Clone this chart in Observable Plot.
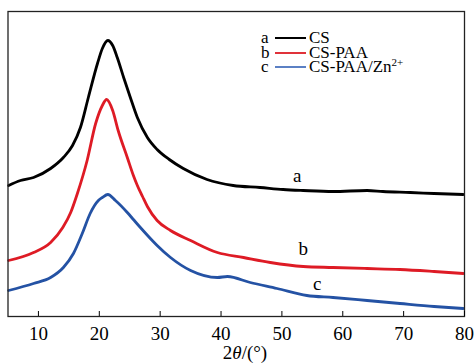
<!DOCTYPE html>
<html><head><meta charset="utf-8">
<script src="https://cdn.jsdelivr.net/npm/d3@7"></script>
<script src="https://cdn.jsdelivr.net/npm/@observablehq/plot@0.6"></script>
<style>
body{margin:0;background:#fff;}
#wrap{position:relative;width:476px;height:363px;font-family:'Liberation Serif';}
#wrap svg, #wrap svg text{font-family:'Liberation Serif' !important;}
#legend{position:absolute;left:261px;top:31px;font-size:17px;line-height:14.5px;color:#000;font-family:'Liberation Serif';}
.row{display:flex;align-items:center;height:14.5px;}
.k{width:12px;text-align:left;}
.ln{display:inline-block;width:31px;height:1.6px;margin:0 3px 0 2px;}
sup{font-size:11px;line-height:0;vertical-align:6px;}
#xtitle{position:absolute;left:0;width:490px;top:343px;text-align:center;font-size:19px;line-height:19px;font-family:'Liberation Serif';}
</style></head><body><div id="wrap"></div>
<script>
// 2θ (degrees) and intensity (a.u.)
const xA = [5.1, 7.05, 9.2, 12.0, 14.1, 15.6, 16.9, 18.2, 19.7, 20.5, 21.4, 22.2, 22.95, 24.0, 25.1, 26.25, 27.9, 29.5, 31.5, 33.8, 37.7, 42.0, 46.4, 50.2, 53.5, 58.4, 64.0, 66.6, 71.1, 75.0, 79.8];
const yA = [131, 136, 139, 148, 159, 171, 189, 219, 253, 268, 276, 271, 259, 239, 219, 199, 179, 167, 157, 148, 137, 131, 129, 127, 126, 125, 126, 125, 124, 123, 122];

const xB = [5.1, 9.2, 12.0, 14.0, 15.3, 16.4, 18.0, 19.4, 20.5, 21.2, 22.2, 23.1, 24.6, 25.6, 26.25, 27.1, 27.9, 29.5, 31.7, 35.0, 39.4, 43.7, 48.1, 53.5, 58.4, 64.0, 69.4, 75.0, 79.8];
const yB = [56, 64, 74, 89, 104, 123, 156, 193, 211, 217, 206, 186, 159, 141, 131, 120, 110, 96, 86, 76, 64, 59, 54, 50, 49, 48, 47, 45, 43];

const xC = [5.1, 9.2, 12.0, 14.1, 15.75, 17.2, 18.5, 19.85, 20.5, 21.4, 22.65, 24.6, 25.6, 26.75, 28.7, 29.5, 31.7, 35.0, 39.4, 41.05, 44.8, 49.2, 54.1, 58.4, 64.0, 69.4, 75.0, 79.8];
const yC = [26, 33, 39, 49, 63, 83, 103, 116, 119, 122, 116, 104, 97, 89, 76, 71, 59, 46, 39, 40, 34, 28, 21, 19, 16, 13, 10, 8];

const xTicks = [10, 20, 30, 40, 50, 60, 70, 80];
const seriesKeys = ["a", "b", "c"];
const seriesNames = ["CS", "CS-PAA", "CS-PAA/Zn2+"];
const seriesColors = ["#000000", "#de1b25", "#2452a4"];
const legendColors = ["#000000", "#e0323a", "#5b80c4"];
// curve label anchors (2θ, intensity)
const labelX = [52.5, 53.5, 55.8];
const labelY = [141, 68, 33];

const serif = "Liberation Serif";
const toRows = (xs, ys) => xs.map((x, i) => ({x, y: ys[i]}));
const series = [toRows(xA, yA), toRows(xB, yB), toRows(xC, yC)];
const labels = seriesKeys.map((k, i) => ({k, x: labelX[i], y: labelY[i]}));

const chart = Plot.plot({
  width: 476, height: 363,
  marginLeft: 7.5, marginRight: 12, marginTop: 11, marginBottom: 47,
  style: {background: "#fff", overflow: "visible"},
  x: {domain: [5, 80]},
  y: {domain: [0, 305], axis: null},
  marks: [
    ...series.map((d, i) => Plot.line(d, {x: "x", y: "y", stroke: seriesColors[i], strokeWidth: 2.8, curve: "monotone-x"})),
    Plot.text(labels, {x: "x", y: "y", text: "k", fontSize: 19, fill: "#000", fontFamily: serif}),
    Plot.frame({stroke: "#222", strokeWidth: 1.3}),
    Plot.axisX(xTicks, {tickSize: -5, tickPadding: 15, fontSize: 19, fill: "#000", stroke: "#000", label: null, fontFamily: serif})
  ]
});
const wrap = document.getElementById("wrap");
wrap.appendChild(chart);

const title = document.createElement("div");
title.id = "xtitle";
title.innerHTML = "2<i>θ</i>/(°)";
wrap.appendChild(title);

const leg = document.createElement("div");
leg.id = "legend";
leg.innerHTML = seriesKeys.map((k, i) => {
  const name = seriesNames[i].replace("2+", "<sup>2+</sup>");
  return `<div class="row"><span class="k">${k}</span><span class="ln" style="background:${legendColors[i]}"></span><span>${name}</span></div>`;
}).join("");
wrap.appendChild(leg);
</script>
</body></html>
